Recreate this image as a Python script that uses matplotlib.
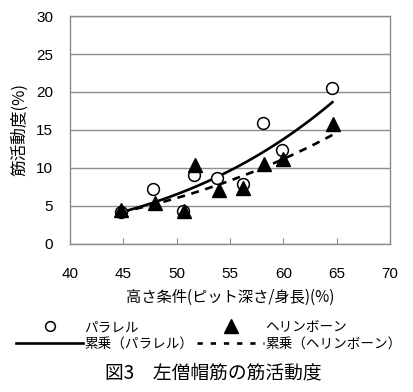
import numpy as np
import matplotlib
matplotlib.use('Agg')
import matplotlib.pyplot as plt
from matplotlib.lines import Line2D

plt.rcParams['font.family'] = ['Liberation Sans', 'Noto Sans CJK JP', 'DejaVu Sans']
jp = ['Noto Sans CJK JP', 'DejaVu Sans']

# 高さ条件 (%) と 筋活動度 (%)
x_para = [44.8, 47.8, 50.6, 51.6, 53.8, 56.2, 58.1, 59.9, 64.6]
y_para = [4.2, 7.2, 4.3, 9.1, 8.7, 7.9, 15.9, 12.4, 20.5]
x_herr = [44.8, 48.0, 50.7, 51.7, 54.0, 56.2, 58.2, 60.0, 64.7]
y_herr = [4.5, 5.4, 4.3, 10.4, 7.1, 7.4, 10.5, 11.2, 15.8]

xticks = [40, 45, 50, 55, 60, 65, 70]
yticks = [0, 5, 10, 15, 20, 25, 30]


def power_fit(x, y):
    # 累乗近似 y = a * x^b
    b, lna = np.polyfit(np.log(x), np.log(y), 1)
    xs = np.linspace(min(x), max(x), 100)
    return xs, np.exp(lna) * xs ** b


fig = plt.figure(figsize=(4.14, 3.92), dpi=100)
ax = fig.add_axes([0.169, 0.378, 0.773, 0.581])

xs1, ys1 = power_fit(x_para, y_para)
xs2, ys2 = power_fit(x_herr, y_herr)
ax.plot(xs1, ys1, color='black', lw=1.9, zorder=3)
ax.plot(xs2, ys2, color='black', lw=1.9, dashes=(3, 2.5), zorder=3)
ax.plot(x_para, y_para, 'o', mfc='white', mec='black', mew=1.1, ms=8.5, ls='none', zorder=4)
ax.plot(x_herr, y_herr, '^', color='black', ms=10, ls='none', zorder=5)

ax.set_xlim(40, 70)
ax.set_ylim(0, 30)
ax.set_xticks(xticks)
ax.set_yticks(yticks)
ax.yaxis.grid(True, color='#8c8c8c', lw=1.0)
ax.set_axisbelow(True)
for s in ax.spines.values():
    s.set_color('#8c8c8c')
    s.set_linewidth(1.0)
ax.tick_params(axis='y', length=0, pad=12, labelsize=11)
ax.tick_params(axis='x', direction='in', length=4, color='#8c8c8c', pad=17, labelsize=11)

ax.set_xlabel('高さ条件(ピット深さ/身長)(%)', family=jp, fontsize=11, labelpad=5)
ax.set_ylabel('筋活動度(%)', family=jp, fontsize=12, labelpad=6)

handles = [
    Line2D([], [], marker='o', mfc='white', mec='black', mew=1.1, ms=7, ls='none'),
    Line2D([], [], color='black', lw=1.9),
    Line2D([], [], marker='^', color='black', ms=10, ls='none'),
    Line2D([], [], color='black', lw=1.9, dashes=(2, 3)),
]
labels = ['パラレル', '累乗（パラレル）', 'ヘリンボーン', '累乗（ヘリンボーン）']
fig.legend(handles, labels, ncol=2, loc='center', bbox_to_anchor=(0.505, 0.144),
           frameon=False, prop={'family': jp, 'size': 9.8}, handlelength=4.9,
           handletextpad=0.1, columnspacing=0.3, labelspacing=0.2, borderpad=0)

fig.text(0.515, 0.048, '図3　左僧帽筋の筋活動度', family=jp, fontsize=13.5, ha='center', va='center')

plt.savefig('out.png', dpi=100)
